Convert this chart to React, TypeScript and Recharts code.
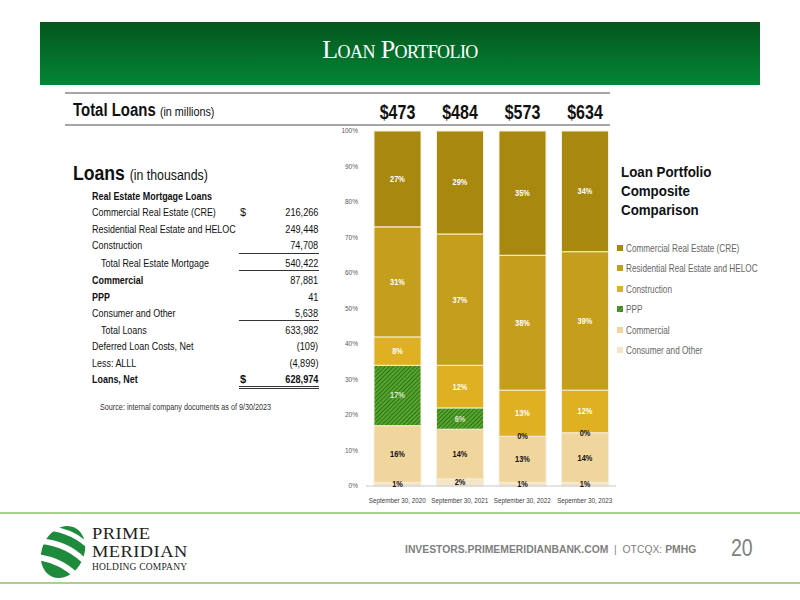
import { BarChart, Bar, XAxis, YAxis, LabelList } from 'recharts';

const periods = ['September 30, 2020', 'September 30, 2021', 'September 30, 2022', 'Sepember 30, 2023'];
const totals = ['$473', '$484', '$573', '$634'];
const cre = [27, 29, 35, 34];
const residential = [31, 37, 38, 39];
const construction = [8, 12, 13, 12];
const ppp = [17, 6, 0, 0];
const commercial = [16, 14, 13, 14];
const consumer = [1, 2, 1, 1];
const yTicks = [0, 10, 20, 30, 40, 50, 60, 70, 80, 90, 100];

const tableLabels = [
  'Real Estate Mortgage Loans',
  'Commercial Real Estate (CRE)',
  'Residential Real Estate and HELOC',
  'Construction',
  'Total Real Estate Mortgage',
  'Commercial',
  'PPP',
  'Consumer and Other',
  'Total Loans',
  'Deferred Loan Costs, Net',
  'Less: ALLL',
  'Loans, Net',
];
const tableValues = ['', '216,266', '249,448', '74,708', '540,422', '87,881', '41', '5,638', '633,982', '(109)', '(4,899)', '628,974'];

const FONT = "'Liberation Sans', Arial, sans-serif";
const SERIF = "'Liberation Serif', serif";

const colors = {
  cre: '#A8880F',
  residential: '#C49E1C',
  construction: '#DFB022',
  ppp: 'url(#pppHatch)',
  commercial: '#F0D59D',
  consumer: '#F3E5C8',
};

const legendItems = [
  { name: 'Commercial Real Estate (CRE)', color: colors.cre },
  { name: 'Residential Real Estate and HELOC', color: colors.residential },
  { name: 'Construction', color: colors.construction },
  { name: 'PPP', color: 'url(#pppHatch)' },
  { name: 'Commercial', color: colors.commercial },
  { name: 'Consumer and Other', color: colors.consumer },
];

// horizontally squeezed text, the deck uses Arial Narrow
const Sx = ({ s, origin = 'left', children }: any) => (
  <span style={{ display: 'inline-block', transform: `scaleX(${s})`, transformOrigin: origin, whiteSpace: 'nowrap' }}>{children}</span>
);

const NText = ({ x, y, s = 0.82, children, ...rest }: any) => (
  <text transform={`translate(${x},${y}) scale(${s},1)`} textAnchor="middle" fontFamily={FONT} {...rest}>
    {children}
  </text>
);

const segLabel = (color: string) => (props: any) => {
  const { x, y, width, height, value } = props;
  if (!value) return null;
  return (
    <NText x={x + width / 2} y={y + height / 2 + 3} fill={color} fontSize={9} fontWeight="bold">
      {value}%
    </NText>
  );
};

// PPP share that rounds to zero sits on top of the commercial segment
const zeroLabel = (props: any) => {
  const { x, y, width, value } = props;
  if (value !== 0) return null;
  return (
    <NText x={x + width / 2} y={y + 3} fill="#111" fontSize={9} fontWeight="bold">
      {value}%
    </NText>
  );
};

const totalLabel = (props: any) => {
  const { x, y, width, value } = props;
  return (
    <NText x={x + width / 2} y={y - 12} s={0.8} fill="#111" fontSize={20} fontWeight="bold">
      {value}
    </NText>
  );
};

const xTick = (props: any) => {
  const { x, y, payload } = props;
  return (
    <NText x={x} y={y + 9} s={0.84} fill="#404040" fontSize={7.5}>
      {payload.value}
    </NText>
  );
};

function Logo() {
  return (
    <svg width={50} height={58} style={{ position: 'absolute', left: 38, top: 523 }}>
      <defs>
        <clipPath id="ball">
          <ellipse cx={25} cy={29} rx={21} ry={27} />
        </clipPath>
      </defs>
      <g clipPath="url(#ball)" transform="rotate(25 25 29)">
        <path d="M-5 7 Q25 -7 55 7 L55 14 Q25 0 -5 14 Z" fill="#1E8A3C" />
        <path d="M-5 19 Q25 5 55 19 L55 28 Q25 14 -5 28 Z" fill="#1E8A3C" />
        <path d="M-5 34 Q25 20 55 34 L55 45 Q25 31 -5 45 Z" fill="#1E8A3C" />
        <path d="M-5 51 Q25 37 55 51 L55 64 Q25 50 -5 64 Z" fill="#1E8A3C" />
      </g>
    </svg>
  );
}

export default function App() {
  const data = periods.map((p, i) => ({
    period: p,
    total: totals[i],
    cre: cre[i],
    residential: residential[i],
    construction: construction[i],
    ppp: ppp[i],
    commercial: commercial[i],
    consumer: consumer[i],
  }));

  const rowY = [197, 213, 230, 246, 264, 281, 298, 314, 331, 347, 364, 380];
  const bold = [0, 5, 6, 11];
  const indent = [4, 8];

  return (
    <div style={{ position: 'absolute', left: 0, top: 0, width: 800, height: 600, background: '#fff', fontFamily: FONT, overflow: 'hidden' }}>
      <svg width={0} height={0} style={{ position: 'absolute' }}>
        <defs>
          <pattern id="pppHatch" width={3} height={3} patternUnits="userSpaceOnUse" patternTransform="rotate(45)">
            <rect width={3} height={3} fill="#57A62C" />
            <line x1={0} y1={0} x2={0} y2={3} stroke="#1C5A12" strokeWidth={1.4} />
          </pattern>
        </defs>
      </svg>

      {/* header */}
      <div style={{ position: 'absolute', left: 40, top: 22, width: 720, height: 63, background: 'linear-gradient(#04561E, #038636)' }} />
      <div style={{ position: 'absolute', left: 0, top: 35, width: 800, textAlign: 'center', color: '#fff', fontFamily: SERIF, fontSize: 26, fontVariant: 'small-caps', letterSpacing: -0.6 }}>
        Loan Portfolio
      </div>

      {/* total loans row */}
      <div style={{ position: 'absolute', left: 65, top: 92, width: 545, height: 2, background: '#A6A6A6' }} />
      <div style={{ position: 'absolute', left: 65, top: 124, width: 545, height: 2, background: '#A6A6A6' }} />
      <div style={{ position: 'absolute', left: 73, top: 100, fontSize: 18, fontWeight: 'bold', color: '#111' }}>
        <Sx s={0.83}>Total Loans <span style={{ fontSize: 13, fontWeight: 'normal' }}>(in millions)</span></Sx>
      </div>

      <div style={{ position: 'absolute', left: 73, top: 162, fontSize: 20, fontWeight: 'bold', color: '#111' }}>
        <Sx s={0.88}>Loans <span style={{ fontSize: 14, fontWeight: 'normal' }}>(in thousands)</span></Sx>
      </div>

      {/* table */}
      {tableLabels.map((label, i) => (
        <div key={label} style={{ position: 'absolute', left: indent.includes(i) ? 101 : 92, top: rowY[i] - 7, fontSize: 11.2, fontWeight: bold.includes(i) ? 'bold' : 'normal', color: '#111' }}>
          <Sx s={0.8}>{label}</Sx>
        </div>
      ))}
      {tableValues.map((v, i) => (
        <div key={i} style={{ position: 'absolute', right: 800 - 318, top: rowY[i] - 7, fontSize: 11.2, fontWeight: i === 11 ? 'bold' : 'normal', color: '#111' }}>
          <Sx s={0.82} origin="right">{v}</Sx>
        </div>
      ))}
      <div style={{ position: 'absolute', left: 240, top: rowY[1] - 7, fontSize: 11, color: '#111' }}>$</div>
      <div style={{ position: 'absolute', left: 240, top: rowY[11] - 7, fontSize: 11, fontWeight: 'bold', color: '#111' }}>$</div>
      <div style={{ position: 'absolute', left: 239, top: 253, width: 80, height: 1, background: '#333' }} />
      <div style={{ position: 'absolute', left: 239, top: 270, width: 80, height: 1, background: '#333' }} />
      <div style={{ position: 'absolute', left: 239, top: 320, width: 80, height: 1, background: '#333' }} />
      <div style={{ position: 'absolute', left: 239, top: 386, width: 80, height: 1, background: '#333' }} />
      <div style={{ position: 'absolute', left: 239, top: 388, width: 80, height: 1, background: '#333' }} />
      <div style={{ position: 'absolute', left: 100, top: 402, fontSize: 8.5, color: '#333' }}>
        <Sx s={0.85}>Source: internal company documents as of 9/30/2023</Sx>
      </div>

      {/* chart */}
      <div style={{ position: 'absolute', left: 320, top: 100 }}>
        <BarChart width={310} height={420} data={data} margin={{ top: 31, right: 14, left: 0, bottom: 14 }} barCategoryGap={8}>
          <XAxis dataKey="period" height={20} interval={0} tickLine={false} axisLine={{ stroke: '#C8C8C8' }} tick={xTick} />
          <YAxis width={46} domain={[0, 100]} ticks={yTicks} tickFormatter={(v) => `${v}%`} axisLine={false} tickLine={false}
            tick={{ fontSize: 6.5, fill: '#595959', fontFamily: FONT }} />
          <Bar dataKey="consumer" stackId="a" fill={colors.consumer} stroke="#F7EEDB" strokeWidth={1} isAnimationActive={false}>
            <LabelList dataKey="consumer" content={segLabel('#111')} />
          </Bar>
          <Bar dataKey="commercial" stackId="a" fill={colors.commercial} stroke="#F7EEDB" strokeWidth={1} isAnimationActive={false}>
            <LabelList dataKey="commercial" content={segLabel('#111')} />
            <LabelList dataKey="ppp" content={zeroLabel} />
          </Bar>
          <Bar dataKey="ppp" stackId="a" fill={colors.ppp} stroke="#F7EEDB" strokeWidth={1} isAnimationActive={false}>
            <LabelList dataKey="ppp" content={segLabel('#D8E6CC')} />
          </Bar>
          <Bar dataKey="construction" stackId="a" fill={colors.construction} stroke="#F7EEDB" strokeWidth={1} isAnimationActive={false}>
            <LabelList dataKey="construction" content={segLabel('#fff')} />
          </Bar>
          <Bar dataKey="residential" stackId="a" fill={colors.residential} stroke="#F7EEDB" strokeWidth={1} isAnimationActive={false}>
            <LabelList dataKey="residential" content={segLabel('#fff')} />
          </Bar>
          <Bar dataKey="cre" stackId="a" fill={colors.cre} stroke="#F7EEDB" strokeWidth={1} isAnimationActive={false}>
            <LabelList dataKey="cre" content={segLabel('#fff')} />
            <LabelList dataKey="total" content={totalLabel} />
          </Bar>
        </BarChart>
      </div>

      {/* legend */}
      <div style={{ position: 'absolute', left: 621, top: 162, fontSize: 15.5, fontWeight: 'bold', color: '#111', lineHeight: '19px' }}>
        <Sx s={0.86}>Loan Portfolio<br />Composite<br />Comparison</Sx>
      </div>
      {legendItems.map((item, i) => (
        <div key={item.name} style={{ position: 'absolute', left: 617, top: 242 + i * 20.4, display: 'flex', alignItems: 'center', fontSize: 10.5, color: '#666' }}>
          <svg width={6} height={6} style={{ marginRight: 3 }}>
            <rect width={6} height={6} fill={item.color} />
          </svg>
          <Sx s={0.78}>{item.name}</Sx>
        </div>
      ))}

      {/* footer */}
      <div style={{ position: 'absolute', left: 0, top: 512, width: 800, height: 2, background: '#A9D18E' }} />
      <div style={{ position: 'absolute', left: 0, top: 582, width: 800, height: 2, background: '#A9D18E' }} />
      <Logo />
      <div style={{ position: 'absolute', left: 92, top: 525, fontFamily: SERIF, color: '#222', fontSize: 16, lineHeight: '18px', letterSpacing: 0.4 }}>
        <Sx s={1.15}>PRIME</Sx>
      </div>
      <div style={{ position: 'absolute', left: 92, top: 543, fontFamily: SERIF, color: '#222', fontSize: 16, lineHeight: '18px', letterSpacing: 0.4 }}>
        <Sx s={1.15}>MERIDIAN</Sx>
      </div>
      <div style={{ position: 'absolute', left: 92, top: 562, fontFamily: SERIF, color: '#222', fontSize: 9.5, lineHeight: '11px', letterSpacing: 0.2 }}>
        HOLDING COMPANY
      </div>
      <div style={{ position: 'absolute', left: 405, top: 543, fontSize: 11.5, color: '#7F7F7F' }}>
        <Sx s={0.9}><b>INVESTORS.PRIMEMERIDIANBANK.COM</b> &nbsp;|&nbsp; OTCQX: <b>PMHG</b></Sx>
      </div>
      <div style={{ position: 'absolute', left: 731, top: 535, fontSize: 23, color: '#7F7F7F' }}>
        <Sx s={0.85}>20</Sx>
      </div>
    </div>
  );
}
